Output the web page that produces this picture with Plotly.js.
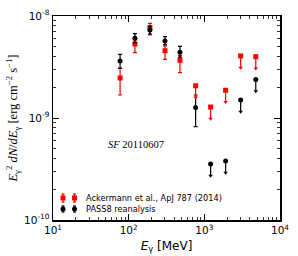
<!DOCTYPE html>
<html><head><meta charset="utf-8">
<script src="https://cdn.plot.ly/plotly-3.0.1.min.js"></script>
<style>html,body{margin:0;padding:0;background:#fff}#plot{width:298px;height:256px}</style>
</head><body><div id="plot"></div>
<script>
// Energies (MeV) of the bin centres
const energy = [77, 121, 191, 302, 476, 767, 1211, 1910, 3020, 4786];

// Ackermann et al., ApJ 787 (2014) — detections
const redE = [77, 121, 191, 302, 476];
const redVal = [2.47e-9, 5.31e-9, 7.68e-9, 4.57e-9, 3.68e-9];
const redHi  = [3.09e-9, 5.82e-9, 8.48e-9, 5.08e-9, 4.10e-9];
const redLo  = [1.68e-9, 4.37e-9, 6.52e-9, 3.76e-9, 2.78e-9];
// Ackermann upper limits
const redUlE = [767, 1211, 1910, 3020, 4786];
const redUl  = [2.07e-9, 1.28e-9, 1.87e-9, 4.06e-9, 3.99e-9];

// PASS8 reanalysis — detections
const blkE = [77, 121, 191, 302, 476, 767];
const blkVal = [3.62e-9, 6.04e-9, 7.29e-9, 5.69e-9, 4.41e-9, 1.27e-9];
const blkHi  = [4.21e-9, 6.71e-9, 7.97e-9, 6.27e-9, 5.04e-9, 1.68e-9];
const blkLo  = [3.07e-9, 5.48e-9, 6.66e-9, 5.20e-9, 3.96e-9, 8.22e-10];
// PASS8 upper limits
const blkUlE = [1211, 1910, 3020, 4786];
const blkUl  = [3.54e-10, 3.78e-10, 1.50e-9, 2.39e-9];

const labels = ['Ackermann et al., ApJ 787 (2014)', 'PASS8 reanalysis'];
const xTickVals = [10, 100, 1000, 10000];
const xTickText = ['10<sup>1</sup>', '10<sup>2</sup>', '10<sup>3</sup>', '10<sup>4</sup>'];
const yTickVals = [1e-10, 1e-9, 1e-8];
const yTickText = ['10<sup>-10</sup>', '10<sup>-9</sup>', '10<sup>-8</sup>'];

const RED = '#ff0000', BLK = '#000000';
const ARROW = Math.pow(10, -0.115); // arrow length in decades

function det(x, v, hi, lo, color, sym, name) {
  return {x: x, y: v, type: 'scatter', mode: 'markers', name: name, showlegend: false,
    marker: {color: color, size: 5, symbol: sym},
    error_y: {type: 'data', symmetric: false,
      array: v.map((d, i) => hi[i] - d), arrayminus: v.map((d, i) => d - lo[i]),
      color: color, thickness: 1.2, width: 2}};
}
function ul(x, v, color, sym) {
  return [
    {x: x, y: v, type: 'scatter', mode: 'markers', showlegend: false, hoverinfo: 'skip',
     marker: {color: color, size: 5, symbol: sym},
     error_y: {type: 'data', symmetric: false, array: v.map(() => 0),
       arrayminus: v.map(d => d * (1 - ARROW)), color: color, thickness: 1.2, width: 0}},
    {x: x, y: v.map(d => d * ARROW), type: 'scatter', mode: 'markers', showlegend: false,
     hoverinfo: 'skip', marker: {color: color, size: 4, symbol: 'triangle-down'}}
  ];
}

const traces = [
  det(redE, redVal, redHi, redLo, RED, 'square', labels[0]),
  det(blkE, blkVal, blkHi, blkLo, BLK, 'circle', labels[1]),
  ...ul(redUlE, redUl, RED, 'square'),
  ...ul(blkUlE, blkUl, BLK, 'circle')
];

// hand-made legend (two keys per entry, matplotlib style)
const PW = 227, PH = 204;
const legRows = [
  {label: labels[0], color: RED, sq: true, ypx: 22, err: 4},
  {label: labels[1], color: BLK, sq: false, ypx: 11, err: 3}
];
const keyX = [10, 21.5];
const shapes = [], annotations = [];
legRows.forEach(r => {
  const ya = r.ypx / PH;
  keyX.forEach(kx => {
    const xa = kx / PW;
    const base = {xref: 'paper', yref: 'paper', xsizemode: 'pixel', ysizemode: 'pixel',
      xanchor: xa, yanchor: ya, line: {color: r.color, width: 1.2}};
    shapes.push(Object.assign({}, base, {type: 'line', x0: 0, x1: 0, y0: -r.err, y1: r.err}));
    shapes.push(Object.assign({}, base, {type: 'line', x0: -1.5, x1: 1.5, y0: r.err, y1: r.err}));
    shapes.push(Object.assign({}, base, {type: 'line', x0: -1.5, x1: 1.5, y0: -r.err, y1: -r.err}));
    shapes.push(Object.assign({}, base, {type: r.sq ? 'rect' : 'circle', x0: -2.5, x1: 2.5, y0: -2.5, y1: 2.5,
      fillcolor: r.color, line: {color: r.color, width: 0}}));
  });
  annotations.push({xref: 'paper', yref: 'paper', x: 30.5 / PW, y: ya, xanchor: 'left', yanchor: 'middle',
    showarrow: false, text: r.label, font: {family: 'DejaVu Sans', size: 8.2, color: '#000'}});
});
annotations.push({xref: 'paper', yref: 'paper', x: 0.235, y: 0.368, showarrow: false,
  text: '<i>SF</i> 20110607', font: {family: 'Liberation Serif', size: 10.5, color: '#000'}});

const axisCommon = {
  type: 'log', showline: true, linecolor: '#000', linewidth: 1.5, mirror: 'allticks',
  ticks: 'inside', ticklen: 6, tickwidth: 1, tickcolor: '#000', showgrid: false, zeroline: false,
  tickmode: 'array',
  tickfont: {family: 'DejaVu Sans', size: 10.5, color: '#000'},
  minor: {ticks: 'inside', ticklen: 3, tickwidth: 0.8, tickcolor: '#000', dtick: 'D1', showgrid: false}
};

const layout = {
  width: 298, height: 256,
  margin: {l: 53, r: 18, t: 16, b: 36},
  paper_bgcolor: '#fff', plot_bgcolor: '#fff',
  showlegend: false,
  xaxis: Object.assign({}, axisCommon, {range: [1, 4], tickvals: xTickVals, ticktext: xTickText,
    title: {text: '<i>E</i><sub>γ</sub> [MeV]', font: {family: 'DejaVu Sans', size: 12, color: '#000'}, standoff: 6}}),
  yaxis: Object.assign({}, axisCommon, {range: [-10, -8], tickvals: yTickVals, ticktext: yTickText,
    title: {text: '<i>E</i><sub>γ</sub><sup>2</sup> <i>dN</i>/<i>dE</i><sub>γ</sub> [erg cm<sup>−2</sup> s<sup>−1</sup>]',
      font: {family: 'Liberation Serif', size: 12.5, color: '#000'}, standoff: 3}}),
  shapes: shapes,
  annotations: annotations
};

Plotly.newPlot('plot', traces, layout, {displayModeBar: false, staticPlot: true});
</script></body></html>
